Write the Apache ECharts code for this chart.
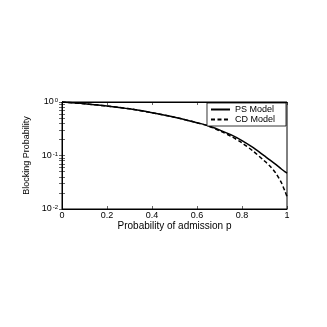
<!DOCTYPE html>
<html>
<head>
<meta charset="utf-8">
<script src="https://cdn.jsdelivr.net/npm/echarts@6/dist/echarts.min.js"></script>
<style>
  html, body { margin: 0; padding: 0; background: #fff; }
  #chart { width: 327px; height: 327px; }
</style>
</head>
<body>
<div id="chart"></div>
<script>
// probability of admission p
const pValues = [0, 0.1, 0.2, 0.3, 0.4, 0.5, 0.6, 0.65, 0.7, 0.75, 0.8, 0.85, 0.9, 0.925, 0.95, 0.975, 0.99, 1];
// blocking probability
const psModel = [1, 0.93, 0.84, 0.745, 0.63, 0.52, 0.41, 0.36, 0.30, 0.245, 0.19, 0.14, 0.098, 0.082, 0.068, 0.056, 0.05, 0.047];
const cdModel = [1, 0.93, 0.84, 0.745, 0.63, 0.52, 0.41, 0.355, 0.29, 0.23, 0.172, 0.12, 0.079, 0.063, 0.047, 0.031, 0.022, 0.017];
const xTicks = [0, 0.2, 0.4, 0.6, 0.8, 1];
const yTicks = [0.01, 0.1, 1];
const yMinorTicks = [0.02, 0.03, 0.04, 0.05, 0.06, 0.07, 0.08, 0.09, 0.2, 0.3, 0.4, 0.5, 0.6, 0.7, 0.8, 0.9];

const font = "'Liberation Sans', Arial, sans-serif";
const pair = arr => pValues.map((p, i) => [p, arr[i]]);

let myChart = echarts.init(document.getElementById("chart"));

const tickStyle = { inside: true, length: 3, lineStyle: { color: "#000", width: 0.6 } };

myChart.setOption({
  animation: false,
  backgroundColor: "#fff",
  grid: {
    left: 62,
    right: 40,
    top: 102,
    bottom: 118,
    show: true,
    borderColor: "#000",
    borderWidth: 1
  },
  legend: {
    orient: "vertical",
    right: 41,
    top: 103,
    data: ["PS Model", "CD Model"],
    itemWidth: 19,
    itemHeight: 8,
    itemGap: 1,
    padding: [2, 11, 2, 3],
    borderColor: "#000",
    borderWidth: 0.8,
    backgroundColor: "#fff",
    itemStyle: { opacity: 0 },
    textStyle: { fontSize: 9, lineHeight: 9, color: "#000", fontFamily: font }
  },
  xAxis: [
    {
      type: "value",
      min: 0,
      max: 1,
      interval: 0.2,
      name: "Probability of admission p",
      nameLocation: "middle",
      nameGap: 10,
      nameTextStyle: { fontSize: 10, color: "#000", fontFamily: font },
      axisLine: { show: true, lineStyle: { color: "#000", width: 1 } },
      axisTick: tickStyle,
      splitLine: { show: false },
      axisLabel: {
        fontSize: 9,
        color: "#000",
        fontFamily: font,
        margin: 2,
        customValues: xTicks,
        formatter: v => String(+v.toFixed(1))
      }
    },
    {
      type: "value",
      position: "top",
      min: 0,
      max: 1,
      interval: 0.2,
      axisLine: { show: true, lineStyle: { color: "#000", width: 1 } },
      axisTick: tickStyle,
      axisLabel: { show: false },
      splitLine: { show: false }
    }
  ],
  yAxis: [
    {
      type: "log",
      logBase: 10,
      min: 0.01,
      max: 1,
      name: "Blocking Probability",
      nameLocation: "middle",
      nameGap: 31,
      nameTextStyle: { fontSize: 9, color: "#000", fontFamily: font },
      axisLine: { show: true, lineStyle: { color: "#000", width: 1 } },
      axisTick: Object.assign({ customValues: yTicks.concat(yMinorTicks) }, tickStyle),
      splitLine: { show: false },
      axisLabel: {
        margin: 4,
        customValues: yTicks,
        formatter: v => "{b|10}{s|" + Math.round(Math.log10(v)) + "}",
        rich: {
          b: { fontSize: 9, color: "#000", fontFamily: font, lineHeight: 9, verticalAlign: "bottom" },
          s: { fontSize: 6, color: "#000", fontFamily: font, lineHeight: 9, verticalAlign: "top", padding: [0, 0, 2, 1] }
        }
      }
    },
    {
      type: "log",
      logBase: 10,
      min: 0.01,
      max: 1,
      position: "right",
      axisLine: { show: true, lineStyle: { color: "#000", width: 1 } },
      axisTick: Object.assign({ customValues: yTicks.concat(yMinorTicks) }, tickStyle),
      axisLabel: { show: false },
      splitLine: { show: false }
    }
  ],
  series: [
    {
      name: "PS Model",
      type: "line",
      data: pair(psModel),
      smooth: 0.3,
      symbol: "none",
      itemStyle: { color: "#000" },
      lineStyle: { color: "#000", width: 1.5, type: "solid" }
    },
    {
      name: "CD Model",
      type: "line",
      data: pair(cdModel),
      smooth: 0.3,
      symbol: "none",
      itemStyle: { color: "#000" },
      lineStyle: { color: "#000", width: 1.5, type: [4, 2.5] }
    }
  ]
});
</script>
</body>
</html>
